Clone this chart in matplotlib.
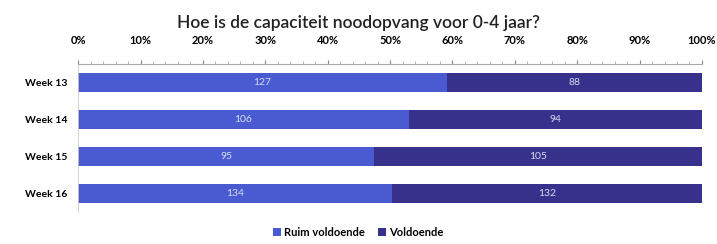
import matplotlib

matplotlib.use("Agg")
import matplotlib.pyplot as plt
import numpy as np

plt.rcParams["font.family"] = ["Lato", "DejaVu Sans"]

weeks = ["Week 13", "Week 14", "Week 15", "Week 16"]
ruim = [127, 106, 95, 134]
voldoende = [88, 94, 105, 132]
series_names = ["Ruim voldoende", "Voldoende"]
colors = ["#4a5bd2", "#38318c"]

ruim = np.array(ruim, dtype=float)
voldoende = np.array(voldoende, dtype=float)
total = ruim + voldoende
p_ruim = ruim / total * 100
p_vold = voldoende / total * 100

fig = plt.figure(figsize=(7.17, 2.44), dpi=100)
ax = fig.add_axes([0.109, 0.131, 0.870, 0.607])
y = np.arange(len(weeks))
h = 0.52
ax.barh(y, p_ruim, height=h, color=colors[0], label=series_names[0])
ax.barh(y, p_vold, left=p_ruim, height=h, color=colors[1], label=series_names[1])

for i in range(len(weeks)):
    ax.text(p_ruim[i] / 2, y[i], f"{int(ruim[i])}", ha="center", va="center",
            color="#d8dcf2", fontsize=7.5)
    ax.text(p_ruim[i] + p_vold[i] / 2, y[i], f"{int(voldoende[i])}", ha="center",
            va="center", color="#d8dcf2", fontsize=7.5)

ax.set_xlim(0, 100)
ax.set_ylim(3.5, -0.5)
ax.set_yticks(y)
ax.set_yticklabels(weeks, fontsize=7.5, fontweight="bold")
ax.xaxis.tick_top()
ax.set_xticks(np.arange(0, 101, 10))
ax.set_xticklabels([f"{v}%" for v in range(0, 101, 10)], fontsize=8, fontweight="bold")
ax.set_xticks(np.arange(0, 101, 2), minor=True)
ax.tick_params(axis="x", which="major", length=3, color="#888888", pad=10)
ax.tick_params(axis="x", which="minor", length=2, color="#aaaaaa")
ax.tick_params(axis="y", length=0, pad=8)
for s in ["right", "bottom"]:
    ax.spines[s].set_visible(False)
ax.spines["top"].set_color("#aaaaaa")
ax.spines["left"].set_color("#cccccc")
ax.spines["top"].set_linewidth(0.8)
ax.spines["left"].set_linewidth(0.6)

fig.suptitle("Hoe is de capaciteit noodopvang voor 0-4 jaar?", y=0.94, fontsize=12.5,
             fontweight="semibold", color="#222222")
fig.legend(loc="lower center", bbox_to_anchor=(0.5, -0.015), ncol=2, frameon=False,
           handlelength=0.7, handleheight=0.7, handletextpad=0.3,
           columnspacing=1.2, prop={"weight": "bold", "size": 8})

fig.savefig("out.png", dpi=100)
